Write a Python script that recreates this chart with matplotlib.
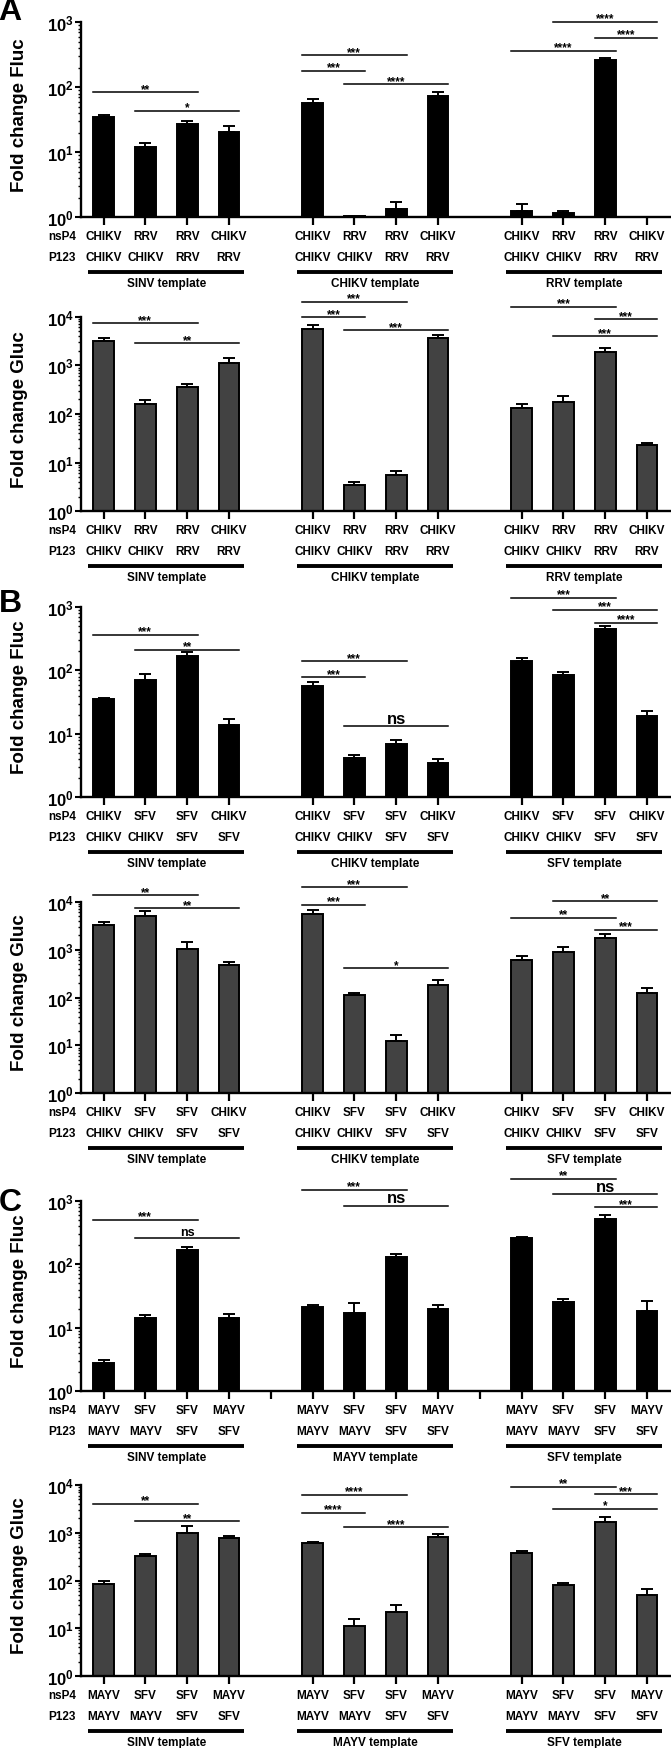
import numpy as np
import matplotlib
matplotlib.use('Agg')
import matplotlib.pyplot as plt
from matplotlib.ticker import LogLocator, FuncFormatter, NullFormatter

plt.rcParams['font.family'] = 'Liberation Sans'
plt.rcParams['font.weight'] = 'bold'
plt.rcParams['mathtext.fontset'] = 'custom'
plt.rcParams['mathtext.bf'] = 'Liberation Sans:bold'
plt.rcParams['mathtext.rm'] = 'Liberation Sans:bold'

# ---- data ----
a_nsp4 = ['CHIKV', 'RRV', 'RRV', 'CHIKV']
a_p123 = ['CHIKV', 'CHIKV', 'RRV', 'RRV']
a_templates = ['SINV template', 'CHIKV template', 'RRV template']
b_nsp4 = ['CHIKV', 'SFV', 'SFV', 'CHIKV']
b_p123 = ['CHIKV', 'CHIKV', 'SFV', 'SFV']
b_templates = ['SINV template', 'CHIKV template', 'SFV template']
c_nsp4 = ['MAYV', 'SFV', 'SFV', 'MAYV']
c_p123 = ['MAYV', 'MAYV', 'SFV', 'SFV']
c_templates = ['SINV template', 'MAYV template', 'SFV template']

a_fluc = [35.4, 11.9, 27.0, 20.3, 56.7, 1.04, 1.34, 74.5, 1.24, 1.15, 260, np.nan]
a_fluc_sd = [2.1, 1.8, 3.3, 5.1, 10.3, 0, 0.36, 9.2, 0.36, 0.09, 22, np.nan]
a_gluc = [3210, 163, 359, 1135, 5580, 3.53, 5.58, 3590, 135, 174, 1880, 23.4]
a_gluc_sd = [490, 34, 54, 280, 1060, 0.41, 1.27, 680, 25, 64, 355, 1.6]
b_fluc = [35, 71.8, 166, 13.9, 56.5, 4.21, 6.87, 3.47, 139, 85, 443, 18.8]
b_fluc_sd = [2.2, 16.2, 26, 3.4, 10.3, 0.48, 1.26, 0.54, 19, 9.6, 57, 4.0]
b_gluc = [3207, 4943, 1028, 477, 5530, 111, 12.6, 182, 616, 891, 1718, 124]
b_gluc_sd = [498, 1342, 389, 83, 1070, 11, 3.9, 50, 131, 223, 397, 31]
c_fluc = [2.77, 14.2, 166, 14.2, 20.9, 17.0, 129, 19.5, 264, 25.1, 526, 18.3]
c_fluc_sd = [0.32, 1.7, 22, 2.0, 1.9, 7.8, 17, 3.3, 3, 2.9, 75, 8.1]
c_gluc = [83.1, 321, 1004, 764, 600, 11.0, 22.3, 828, 383, 80.5, 1680, 49.7]
c_gluc_sd = [14.5, 32, 381, 91, 30, 4.9, 7.9, 129, 32, 6.7, 457, 15.6]

# significance: (group, bar i, bar j, height, label)
a_fluc_sig = [(0, 0, 2, 83.7, '**'), (0, 1, 3, 43.8, '*'), (1, 0, 2, 314, '***'),
              (1, 0, 1, 180, '***'), (1, 1, 3, 111, '****'), (2, 1, 3, 1023, '****'),
              (2, 2, 3, 574, '****'), (2, 0, 2, 366, '****')]
a_gluc_sig = [(0, 0, 2, 7290, '***'), (0, 1, 3, 2830, '**'), (1, 0, 2, 20300, '***'),
              (1, 0, 1, 9680, '***'), (1, 1, 3, 5320, '***'), (2, 0, 2, 16000, '***'),
              (2, 2, 3, 8950, '***'), (2, 1, 3, 3940, '***')]
b_fluc_sig = [(0, 0, 2, 366, '***'), (0, 1, 3, 211, '**'), (1, 0, 2, 139, '***'),
              (1, 0, 1, 78, '***'), (1, 1, 3, 13.1, 'ns'), (2, 0, 2, 1400, '***'),
              (2, 1, 3, 899, '***'), (2, 2, 3, 563, '****')]
b_gluc_sig = [(0, 0, 2, 13770, '**'), (0, 1, 3, 7260, '**'), (1, 0, 2, 20200, '***'),
              (1, 0, 1, 8660, '***'), (1, 1, 3, 406, '*'), (2, 1, 3, 10160, '**'),
              (2, 0, 2, 4635, '**'), (2, 2, 3, 2605, '***')]
c_fluc_sig = [(0, 0, 2, 507, '***'), (0, 1, 3, 261, 'ns'), (1, 0, 2, 1510, '***'),
              (1, 1, 3, 844, 'ns'), (2, 0, 2, 2253, '**'), (2, 1, 3, 1274, 'ns'),
              (2, 2, 3, 804, '***')]
c_gluc_sig = [(0, 0, 2, 4065, '**'), (0, 1, 3, 1762, '**'), (1, 0, 2, 6280, '****'),
              (1, 0, 1, 2635, '****'), (1, 1, 3, 1320, '****'), (2, 0, 2, 9230, '**'),
              (2, 2, 3, 6380, '***'), (2, 1, 3, 3194, '*')]

W, H = 671, 1749
fig = plt.figure(figsize=(W / 100, H / 100), dpi=100)
LEFT, RIGHT = 81, 670
pos = np.array([0, 1, 2, 3, 5, 6, 7, 8, 10, 11, 12, 13])


def panel(top, bottom, vals, sd, sig, nsp4, p123, templates, ylabel, decades,
          color, gap_ticks=False, small_ns=()):
    hpx = bottom - top
    ax = fig.add_axes([LEFT / W, 1 - bottom / H, (RIGHT - LEFT) / W, hpx / H])
    vals = np.array(vals, float)
    sd = np.array(sd, float)
    ok = ~np.isnan(vals)
    ax.bar(pos[ok], vals[ok], width=0.5, color=color, edgecolor='black',
           linewidth=1.4, zorder=2)
    ax.errorbar(pos[ok], vals[ok], yerr=[np.zeros(ok.sum()), sd[ok]], fmt='none',
                ecolor='black', elinewidth=1.4, capsize=4.3, capthick=1.4, zorder=3)
    ax.set_yscale('log')
    ax.set_ylim(1, 10 ** decades)
    ax.set_xlim(-0.54, 13.55)
    ax.yaxis.set_major_locator(LogLocator(base=10, numticks=10))
    ax.yaxis.set_minor_locator(LogLocator(base=10, subs=np.arange(2, 10), numticks=20))
    ax.yaxis.set_major_formatter(FuncFormatter(lambda v, p: r'$\mathbf{10^{%d}}$' % round(np.log10(v))))
    ax.yaxis.set_minor_formatter(NullFormatter())
    xt = list(pos) + ([4, 9] if gap_ticks else [])
    ax.set_xticks(xt)
    ax.set_xticklabels([''] * len(xt))
    for s in ['top', 'right']:
        ax.spines[s].set_visible(False)
    for s in ['left', 'bottom']:
        ax.spines[s].set_linewidth(1.7)
    ax.tick_params(axis='x', length=6, width=1.6)
    ax.tick_params(axis='y', which='major', length=4, width=1.5, pad=1, labelsize=12)
    ax.tick_params(axis='y', which='minor', length=2.2, width=1.0)
    ax.set_ylabel(ylabel, fontsize=13.5, fontweight='bold')
    ax.yaxis.set_label_coords((28 - LEFT) / (RIGHT - LEFT), 0.53)

    tr = ax.get_xaxis_transform()
    for g in range(3):
        for k in range(4):
            x = pos[g * 4 + k]
            ax.text(x, -19 / hpx, nsp4[k], transform=tr, ha='center', va='center', fontsize=8.5)
            ax.text(x, -40 / hpx, p123[k], transform=tr, ha='center', va='center', fontsize=8.5)
        x0, x1 = pos[g * 4], pos[g * 4 + 3]
        ax.plot([x0 - 0.37, x1 + 0.37], [-55 / hpx] * 2, transform=tr, color='black',
                lw=2.8, clip_on=False, solid_capstyle='butt')
        ax.text((x0 + x1) / 2, -66 / hpx, templates[g], transform=tr, ha='center',
                va='center', fontsize=8.5)
    fx = (48 - LEFT) / (RIGHT - LEFT)
    ax.text(fx, -19 / hpx, 'nsP4', transform=ax.transAxes, ha='left', va='center', fontsize=8.5)
    ax.text(fx, -40 / hpx, 'P123', transform=ax.transAxes, ha='left', va='center', fontsize=8.5)

    for g, i, j, y, lab in sig:
        xa, xb = pos[g * 4 + i] - 0.25, pos[g * 4 + j] + 0.25
        ax.plot([xa, xb], [y, y], color='black', lw=1.1, clip_on=False, zorder=4)
        if lab == 'ns':
            fs = 9 if g in small_ns else 12
            off = 4.5 if g in small_ns else 6
        else:
            fs, off = 8.5, 2.4
        ax.annotate(lab, xy=((xa + xb) / 2, y), xytext=(0, off), textcoords='offset points',
                    ha='center', va='center', fontsize=fs, annotation_clip=False)
    return ax


panel(23.3, 218.3, a_fluc, a_fluc_sd, a_fluc_sig, a_nsp4, a_p123, a_templates,
      'Fold change Fluc', 3, 'black')
panel(317.7, 512.3, a_gluc, a_gluc_sd, a_gluc_sig, a_nsp4, a_p123, a_templates,
      'Fold change Gluc', 4, '#424242')
panel(608, 798.3, b_fluc, b_fluc_sd, b_fluc_sig, b_nsp4, b_p123, b_templates,
      'Fold change Fluc', 3, 'black')
panel(902.7, 1094.3, b_gluc, b_gluc_sd, b_gluc_sig, b_nsp4, b_p123, b_templates,
      'Fold change Gluc', 4, '#424242')
panel(1202, 1392, c_fluc, c_fluc_sd, c_fluc_sig, c_nsp4, c_p123, c_templates,
      'Fold change Fluc', 3, 'black', gap_ticks=True, small_ns=(0,))
panel(1486, 1677, c_gluc, c_gluc_sd, c_gluc_sig, c_nsp4, c_p123, c_templates,
      'Fold change Gluc', 4, '#424242')

for lab, y in [('A', 12.5), ('B', 604), ('C', 1203)]:
    fig.text(10 / W, 1 - y / H, lab, fontsize=23, fontweight='bold', ha='center', va='center')

fig.savefig('out.png', dpi=100)
